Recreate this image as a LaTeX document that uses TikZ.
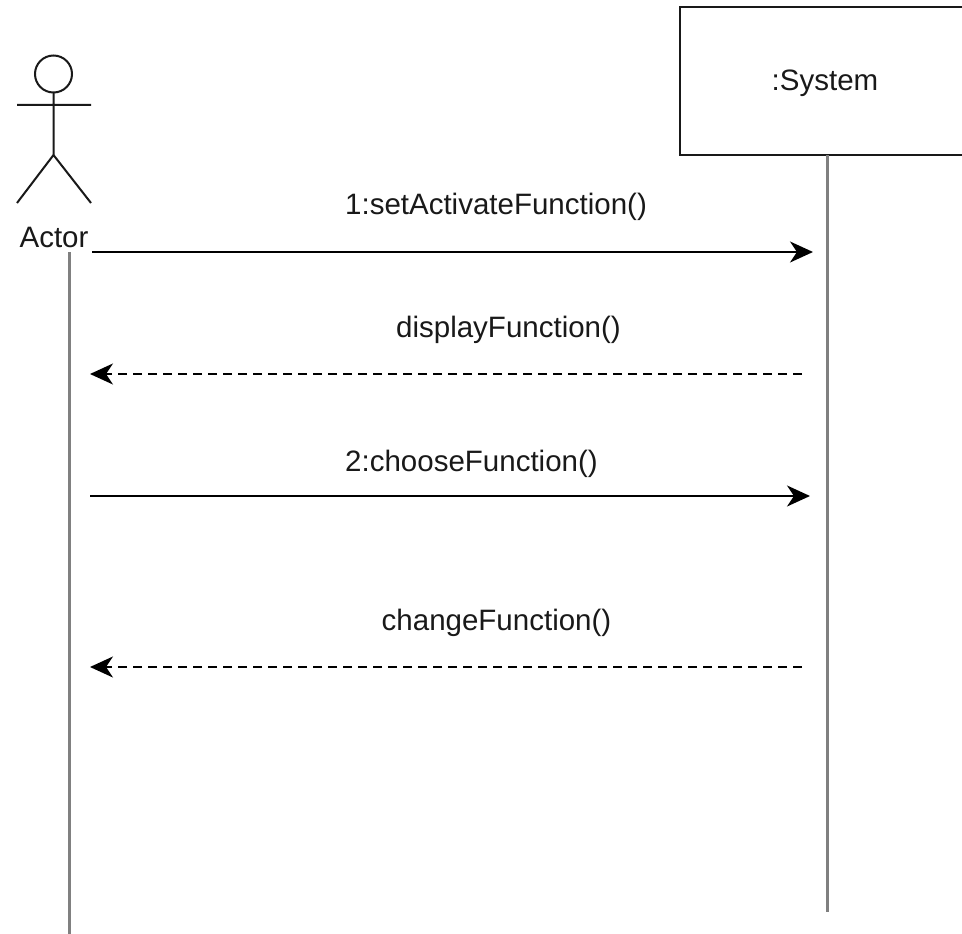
\documentclass[tikz,border=0pt]{standalone}
\usepackage{fontspec}
\setmainfont{Liberation Sans}
\usetikzlibrary{arrows.meta}
\tikzset{
 px/.style={x=1pt,y=-1pt},
 ink/.style={draw=black!90,line width=2pt},
 life/.style={draw=black!50,line width=3pt},
 lbl/.style={font=\fontsize{29.5}{34}\selectfont,text=black!90,inner sep=0pt},
 msg/.style={draw=black,line width=2pt,-{Stealth[length=23pt,width=21pt,inset=7pt]}},
 ret/.style={msg,dash pattern=on 9pt off 6pt},
}
\begin{document}
\begin{tikzpicture}[px]
\useasboundingbox (0,0) rectangle (962,934);
\draw[ink] (53.5,74) circle (18.5);
\draw[ink] (53.5,92.5) -- (53.5,155) (17,105) -- (91,105) (17,203) -- (53.5,155) -- (91,203);
\node[lbl] (actor) at (54,237) {Actor};
\node[ink,draw,minimum width=284pt,minimum height=147pt,inner sep=0pt] (sys) at (822,81) {};
\node[lbl] (systext) at (825,83) {:System};
\coordinate (a0) at (69,252); \coordinate (a1) at (69,934);
\coordinate (s0) at (827,155); \coordinate (s1) at (827,912);
\draw[life] (a0) -- (a1);
\draw[life] (s0) -- (s1);
\coordinate (m1a) at (92,252); \coordinate (m1b) at (813,252);
\coordinate (m2a) at (802,374); \coordinate (m2b) at (90,374);
\coordinate (m3a) at (90,496); \coordinate (m3b) at (810,496);
\coordinate (m4a) at (802,667); \coordinate (m4b) at (90,667);
\draw[msg] (m1a) -- (m1b);
\draw[ret] (m2a) -- (m2b);
\draw[msg] (m3a) -- (m3b);
\draw[ret] (m4a) -- (m4b);
\node[lbl] (t1) at (496,206.5) {1:setActivateFunction()};
\node[lbl] (t2) at (508.5,329.5) {displayFunction()};
\node[lbl] (t3) at (471.5,463.5) {2:chooseFunction()};
\node[lbl] (t4) at (496.5,622.5) {changeFunction()};
\end{tikzpicture}
\end{document}
